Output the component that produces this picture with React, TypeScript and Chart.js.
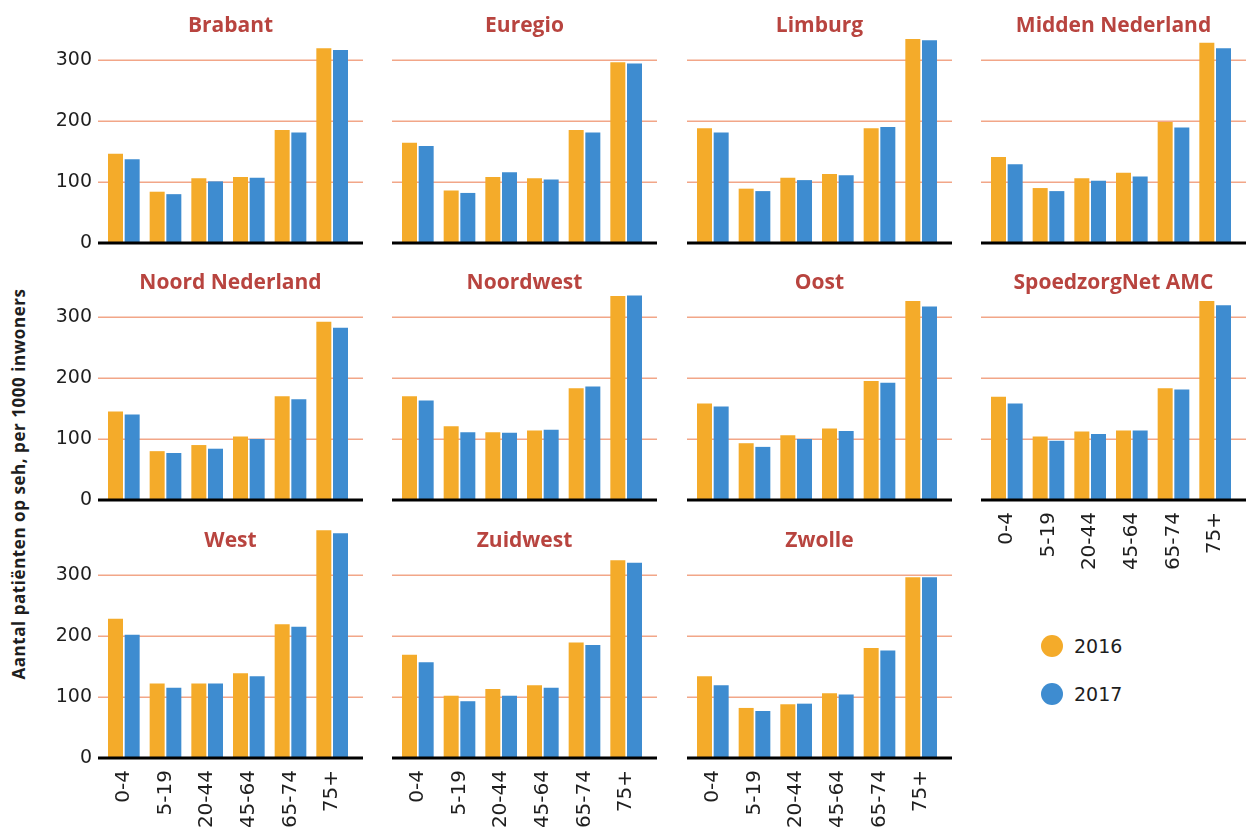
import React, { useEffect, useRef } from "react";
import { Chart, registerables } from "chart.js";

Chart.register(...registerables);

// ---------- data ----------
const AGE_GROUPS = ["0-4", "5-19", "20-44", "45-64", "65-74", "75+"];
const SERIES_LABELS = ["2016", "2017"];
const Y_TICKS = [0, 100, 200, 300];
const Y_MAX = 380;
const Y_AXIS_TITLE = "Aantal patiënten op seh, per 1000 inwoners";

const REGIONS = [
  "Brabant",
  "Euregio",
  "Limburg",
  "Midden Nederland",
  "Noord Nederland",
  "Noordwest",
  "Oost",
  "SpoedzorgNet AMC",
  "West",
  "Zuidwest",
  "Zwolle",
];

const brabant2016 = [146, 84, 106, 108, 185, 319];
const brabant2017 = [137, 80, 101, 107, 181, 316];
const euregio2016 = [164, 86, 108, 106, 185, 296];
const euregio2017 = [159, 82, 116, 104, 181, 294];
const limburg2016 = [188, 89, 107, 113, 188, 334];
const limburg2017 = [181, 85, 103, 111, 190, 332];
const midden2016 = [141, 90, 106, 115, 198, 328];
const midden2017 = [129, 85, 102, 109, 189, 319];
const noordNederland2016 = [145, 80, 90, 104, 170, 292];
const noordNederland2017 = [140, 77, 84, 100, 165, 282];
const noordwest2016 = [170, 121, 111, 114, 183, 334];
const noordwest2017 = [163, 111, 110, 115, 186, 335];
const oost2016 = [158, 93, 106, 117, 195, 326];
const oost2017 = [153, 87, 100, 113, 192, 317];
const amc2016 = [169, 104, 112, 114, 183, 326];
const amc2017 = [158, 97, 108, 114, 181, 319];
const west2016 = [228, 122, 122, 139, 219, 373];
const west2017 = [202, 115, 122, 134, 215, 368];
const zuidwest2016 = [169, 102, 113, 119, 189, 324];
const zuidwest2017 = [157, 93, 102, 115, 185, 320];
const zwolle2016 = [134, 82, 88, 106, 180, 296];
const zwolle2017 = [119, 77, 89, 104, 176, 296];

const VALUES_2016 = [
  brabant2016, euregio2016, limburg2016, midden2016,
  noordNederland2016, noordwest2016, oost2016, amc2016,
  west2016, zuidwest2016, zwolle2016,
];
const VALUES_2017 = [
  brabant2017, euregio2017, limburg2017, midden2017,
  noordNederland2017, noordwest2017, oost2017, amc2017,
  west2017, zuidwest2017, zwolle2017,
];

// ---------- styling / layout ----------
const ORANGE = "#f4ab2a";
const BLUE = "#3e8cd0";
const GRID = "#f2a688";
const TITLE_COLOR = "#b8443f";
const TEXT = "#1e1e1e";

const CAT_LEFT = [103, 397, 692, 986];
const BASELINE = [243, 500, 758];
const PLOT_W = 250;
const PLOT_H = 232;

const decorPlugin = {
  id: "panelDecor",
  beforeDatasetsDraw(chart: any) {
    const { ctx, chartArea } = chart;
    const y = chart.scales.y;
    ctx.save();
    ctx.strokeStyle = GRID;
    ctx.lineWidth = 1.5;
    for (const v of Y_TICKS) {
      if (v === 0) continue;
      const py = Math.round(y.getPixelForValue(v)) + 0.25;
      ctx.beginPath();
      ctx.moveTo(chartArea.left - 5, py);
      ctx.lineTo(chartArea.right + 10, py);
      ctx.stroke();
    }
    ctx.restore();
  },
  afterDatasetsDraw(chart: any) {
    const { ctx, chartArea } = chart;
    const y = chart.scales.y;
    const py = y.getPixelForValue(0);
    ctx.save();
    ctx.strokeStyle = "#000";
    ctx.lineWidth = 3;
    ctx.beginPath();
    ctx.moveTo(chartArea.left - 5, py);
    ctx.lineTo(chartArea.right + 10, py);
    ctx.stroke();
    ctx.restore();
  },
  afterDraw(chart: any, _args: any, opts: any) {
    const { ctx, chartArea } = chart;
    const y = chart.scales.y;
    ctx.save();
    ctx.fillStyle = TITLE_COLOR;
    ctx.font = '700 21px "Open Sans"';
    ctx.textAlign = "center";
    ctx.textBaseline = "alphabetic";
    const cx = (chartArea.left + chartArea.right + 10 - 5) / 2;
    ctx.fillText(opts.title || "", cx, y.getPixelForValue(0) - 211);
    ctx.restore();
  },
};

type PanelProps = {
  title: string;
  v2016: number[];
  v2017: number[];
  col: number;
  row: number;
  showY: boolean;
  showX: boolean;
};

function Panel({ title, v2016, v2017, col, row, showY, showX }: PanelProps) {
  const ref = useRef<HTMLCanvasElement>(null);
  const yW = showY ? 60 : 6;
  const xH = showX ? 80 : 6;
  const padRight = 12;
  const left = CAT_LEFT[col] - yW;
  const top = BASELINE[row] - PLOT_H;
  const width = yW + PLOT_W + padRight;
  const height = PLOT_H + xH;

  useEffect(() => {
    if (!ref.current) return;
    const chart = new Chart(ref.current, {
      type: "bar",
      data: {
        labels: AGE_GROUPS,
        datasets: [
          {
            label: SERIES_LABELS[0],
            data: v2016,
            backgroundColor: ORANGE,
            borderWidth: 0,
            categoryPercentage: 0.8,
            barPercentage: 0.9,
          },
          {
            label: SERIES_LABELS[1],
            data: v2017,
            backgroundColor: BLUE,
            borderWidth: 0,
            categoryPercentage: 0.8,
            barPercentage: 0.9,
          },
        ],
      },
      options: {
        responsive: false,
        maintainAspectRatio: false,
        animation: false,
        devicePixelRatio: 1,
        layout: { padding: { left: 0, right: padRight, top: 0, bottom: 0 } },
        plugins: {
          legend: { display: false },
          tooltip: { enabled: false },
          title: { display: false },
          panelDecor: { title },
        } as any,
        scales: {
          x: {
            grid: { display: false, drawTicks: false },
            border: { display: false },
            ticks: {
              display: showX,
              autoSkip: false,
              minRotation: 90,
              maxRotation: 90,
              padding: 12,
              color: TEXT,
              font: { family: "DejaVu Sans", size: 20 },
            },
            afterFit: (s: any) => {
              s.height = xH;
              s.paddingLeft = 0;
              s.paddingRight = 0;
              s.paddingTop = 0;
              s.paddingBottom = 0;
            },
          },
          y: {
            min: 0,
            max: Y_MAX,
            grid: { display: false, drawTicks: false },
            border: { display: false },
            afterBuildTicks: (s: any) => {
              s.ticks = Y_TICKS.map((v) => ({ value: v }));
            },
            ticks: {
              display: showY,
              padding: 11,
              color: TEXT,
              font: { family: "DejaVu Sans", size: 19 },
            },
            afterFit: (s: any) => {
              s.width = yW;
              s.paddingLeft = 0;
              s.paddingRight = 0;
              s.paddingTop = 0;
              s.paddingBottom = 0;
            },
          },
        },
      } as any,
      plugins: [decorPlugin as any],
    });
    return () => chart.destroy();
  }, []);

  return (
    <canvas
      ref={ref}
      width={width}
      height={height}
      style={{
        position: "absolute",
        left,
        top,
        width,
        height,
      }}
    />
  );
}

const PANEL_POS = [
  [0, 0], [1, 0], [2, 0], [3, 0],
  [0, 1], [1, 1], [2, 1], [3, 1],
  [0, 2], [1, 2], [2, 2],
];

export default function App() {
  return (
    <div
      style={{
        position: "absolute",
        left: 0,
        top: 0,
        width: 1246,
        height: 832,
        background: "#fff",
        overflow: "hidden",
      }}
    >
      {REGIONS.map((name, i) => {
        const [col, row] = PANEL_POS[i];
        const showX = row === 2 || (row === 1 && col === 3);
        return (
          <Panel
            key={name}
            title={name}
            v2016={VALUES_2016[i]}
            v2017={VALUES_2017[i]}
            col={col}
            row={row}
            showY={col === 0}
            showX={showX}
          />
        );
      })}
      <div
        style={{
          position: "absolute",
          left: 18,
          top: 484,
          transform: "translate(-50%, -50%) rotate(-90deg)",
          whiteSpace: "nowrap",
          fontFamily: '"Open Sans", sans-serif',
          fontWeight: 700,
          fontSize: 17,
          letterSpacing: "0.55px",
          color: TEXT,
        }}
      >
        {Y_AXIS_TITLE}
      </div>
      {SERIES_LABELS.map((lab, i) => (
        <div
          key={lab}
          style={{
            position: "absolute",
            left: 1041,
            top: 635 + i * 48,
            height: 22,
            display: "flex",
            alignItems: "center",
          }}
        >
          <div
            style={{
              width: 22,
              height: 22,
              borderRadius: "50%",
              background: i === 0 ? ORANGE : BLUE,
            }}
          />
          <span
            style={{
              marginLeft: 11,
              fontFamily: '"DejaVu Sans", sans-serif',
              fontSize: 19,
              color: TEXT,
              lineHeight: "22px",
            }}
          >
            {lab}
          </span>
        </div>
      ))}
    </div>
  );
}
